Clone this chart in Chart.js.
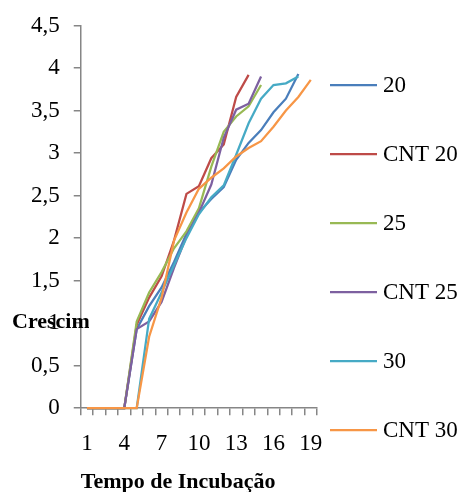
<!DOCTYPE html>
<html>
<head>
<meta charset="utf-8">
<script src="https://cdn.jsdelivr.net/npm/chart.js@4.4.1/dist/chart.umd.min.js"></script>
<style>
  html, body { margin: 0; padding: 0; background: #fff; }
  canvas { display: block; }
</style>
</head>
<body>
<canvas id="grafico" width="459" height="492"></canvas>
<script>
// dias de incubação
var dias = ['1','2','3','4','5','6','7','8','9','10','11','12','13','14','15','16','17','18','19'];

// séries
var serie20    = [0, 0, 0, 0, 0.93, 1.2, 1.42, 1.72, 2.05, 2.3, 2.46, 2.6, 2.92, 3.12, 3.27, 3.48, 3.64, 3.93];
var serieCnt20 = [0, 0, 0, 0, 0.98, 1.3, 1.55, 1.97, 2.52, 2.61, 2.94, 3.1, 3.66, 3.92];
var serie25    = [0, 0, 0, 0, 1.02, 1.36, 1.6, 1.88, 2.08, 2.35, 2.84, 3.25, 3.43, 3.55, 3.8];
var serieCnt25 = [0, 0, 0, 0, 0.93, 1.02, 1.25, 1.65, 2.02, 2.3, 2.63, 3.18, 3.51, 3.58, 3.9];
var serie30    = [0, 0, 0, 0, 0, 1.05, 1.36, 1.68, 2.0, 2.28, 2.48, 2.62, 2.98, 3.35, 3.64, 3.8, 3.82, 3.9];
var serieCnt30 = [0, 0, 0, 0, 0, 0.84, 1.3, 1.97, 2.3, 2.58, 2.71, 2.82, 2.96, 3.06, 3.14, 3.31, 3.5, 3.66, 3.86];

var nomes = ['20', 'CNT 20', '25', 'CNT 25', '30', 'CNT 30'];
var cores = ['#4a7ebb', '#be4b48', '#98b954', '#7d60a0', '#46aac5', '#f79646'];
var series = [serie20, serieCnt20, serie25, serieCnt25, serie30, serieCnt30];

var eixoCor = '#868686';
var fonte = 'Liberation Serif';

Chart.defaults.font.family = fonte;
Chart.defaults.color = '#000';

// legenda desenhada à mão (espaçamento grande como no original)
const legendaPlugin = {
  id: 'legendaLateral',
  afterDraw(chart) {
    const ctx = chart.ctx;
    const x0 = chart.chartArea.right + 13;
    ctx.save();
    ctx.font = '23px "' + fonte + '"';
    ctx.textBaseline = 'middle';
    chart.data.datasets.forEach(function (ds, i) {
      const y = 85 + i * 69;
      ctx.strokeStyle = ds.borderColor;
      ctx.lineWidth = 2.25;
      ctx.beginPath();
      ctx.moveTo(x0, y);
      ctx.lineTo(x0 + 47, y);
      ctx.stroke();
      ctx.fillStyle = '#000';
      ctx.fillText(ds.label, x0 + 53, y + 1);
    });
    ctx.restore();
  }
};

// título do eixo y, horizontal e cortado
const tituloYPlugin = {
  id: 'tituloY',
  afterDraw(chart) {
    const ctx = chart.ctx;
    ctx.save();
    ctx.beginPath();
    ctx.rect(0, 0, 89, chart.height);
    ctx.clip();
    ctx.font = 'bold 22px "' + fonte + '"';
    ctx.textBaseline = 'middle';
    ctx.fillStyle = '#000';
    ctx.fillText('Crescim', 12, 322);
    ctx.restore();
  }
};

var datasets = series.map(function (s, i) {
  return {
    label: nomes[i],
    data: s,
    borderColor: cores[i],
    backgroundColor: cores[i],
    borderWidth: 2.25,
    pointRadius: 0,
    tension: 0,
    fill: false,
    clip: false,
    order: series.length - i
  };
});

const config = {
  type: 'line',
  data: { labels: dias, datasets: datasets },
  options: {
    responsive: false,
    animation: false,
    layout: { padding: { left: 17, right: 142, top: 12, bottom: 0 } },
    plugins: {
      legend: { display: false },
      tooltip: { enabled: false }
    },
    scales: {
      x: {
        offset: true,
        grid: { display: true, drawOnChartArea: false, offset: true, color: eixoCor, tickLength: 7, lineWidth: 1.5 },
        border: { color: eixoCor, width: 1.5, z: -1 },
        ticks: {
          autoSkip: false,
          maxRotation: 0,
          padding: 17,
          font: { size: 23, lineHeight: 1 },
          callback: function (v, i) { return i % 3 === 0 ? dias[i] : ''; }
        },
        title: {
          display: true,
          text: 'Tempo de Incubação',
          align: 'start',
          font: { size: 22, weight: 'bold', lineHeight: 0.9 },
          padding: { top: 0, bottom: 0 }
        }
      },
      y: {
        min: 0,
        max: 4.5,
        grid: { display: true, drawOnChartArea: false, color: eixoCor, tickLength: 7, lineWidth: 1.5 },
        border: { color: eixoCor, width: 1.5, z: -1 },
        ticks: {
          stepSize: 0.5,
          padding: 14,
          font: { size: 23, lineHeight: 1 },
          callback: function (v) { return String(v).replace('.', ','); }
        }
      }
    }
  },
  plugins: [legendaPlugin, tituloYPlugin]
};

var myChart = new Chart(document.querySelector('#grafico'), config);
</script>
</body>
</html>
